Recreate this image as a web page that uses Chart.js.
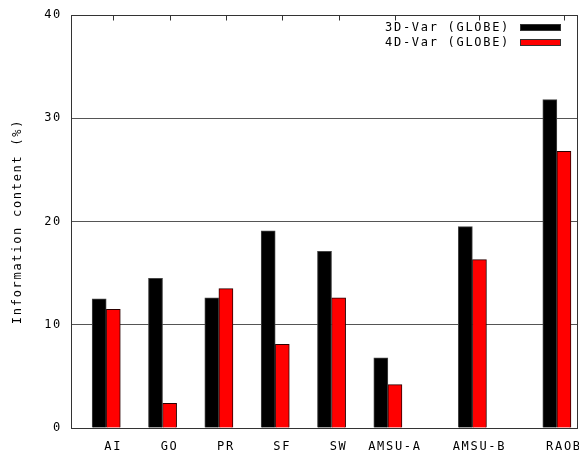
<!DOCTYPE html>
<html>
<head>
<meta charset="utf-8">
<script src="https://cdn.jsdelivr.net/npm/chart.js@4/dist/chart.umd.min.js"></script>
<style>
  html, body { margin: 0; padding: 0; background: #fff; overflow: hidden; }
  #wrap { width: 579px; height: 454px; }
</style>
</head>
<body>
<div id="wrap"><canvas id="c" width="579" height="454"></canvas></div>
<script>
// Observation types and where they sit along the x axis
const categories = ['AI', 'GO', 'PR', 'SF', 'SW', 'AMSU-A', 'AMSU-B', 'RAOB'];
const slots = [1, 2, 3, 4, 5, 6, 7.5, 9];

// Information content (%) per observation type
const var3d = [12.5, 14.5, 12.6, 19.1, 17.1, 6.8, 19.5, 31.8];
const var4d = [11.5, 2.4, 13.5, 8.1, 12.6, 4.2, 16.3, 26.8];

const seriesNames = ['3D-Var (GLOBE)', '4D-Var (GLOBE)'];
const yTicks = [0, 10, 20, 30, 40];

const MONO = { family: '"DejaVu Sans Mono", monospace', size: 12 };
const SPACING = '1.7px';
const FRAME = '#333';

// 3D-Var bars sit just left of each slot, 4D-Var bars on the slot itself
const shift3d = 0.25;
const pts3d = slots.map((s, i) => ({ x: s - shift3d, y: var3d[i] }));
const pts4d = slots.map((s, i) => ({ x: s, y: var4d[i] }));

// Wide, gnuplot-like lettering for every label on the canvas
const spacingPlugin = {
  id: 'spacing',
  beforeDraw(chart) { chart.ctx.letterSpacing = SPACING; }
};

// Closed frame with mirrored x tick marks along the top edge
const framePlugin = {
  id: 'frame',
  afterDatasetsDraw(chart) {
    const { ctx, chartArea: a, scales } = chart;
    ctx.save();
    ctx.strokeStyle = FRAME;
    ctx.lineWidth = 1;
    const L = Math.round(a.left) + 0.5, R = Math.round(a.right) - 0.5;
    const T = Math.round(a.top) + 0.5, B = Math.round(a.bottom) + 0.5;
    ctx.beginPath();
    ctx.moveTo(L, T); ctx.lineTo(R, T); ctx.lineTo(R, B); ctx.lineTo(L, B); ctx.closePath();
    scales.x.ticks.forEach(t => {
      const px = Math.round(scales.x.getPixelForValue(t.value)) + 0.5;
      ctx.moveTo(px, T); ctx.lineTo(px, T + 5);
    });
    ctx.stroke();
    ctx.restore();
  }
};

// Key in the upper right: label text first, colour sample after it
const keyPlugin = {
  id: 'key',
  afterDraw(chart) {
    const { ctx, chartArea: a } = chart;
    ctx.save();
    ctx.letterSpacing = SPACING;
    ctx.font = `${MONO.size}px ${MONO.family}`;
    ctx.textAlign = 'right';
    ctx.textBaseline = 'middle';
    chart.data.datasets.forEach((ds, i) => {
      const cy = a.top + 12 + i * 15;
      const boxR = a.right - 17, boxW = 41, boxH = 7;
      ctx.fillStyle = '#000';
      ctx.fillText(ds.label, boxR - boxW - 10, cy + 1);
      ctx.fillStyle = ds.backgroundColor;
      ctx.fillRect(boxR - boxW, Math.round(cy - boxH / 2), boxW, boxH);
      ctx.strokeStyle = FRAME;
      ctx.lineWidth = 1;
      ctx.strokeRect(boxR - boxW + 0.5, Math.round(cy - boxH / 2) + 0.5, boxW - 1, boxH - 1);
    });
    ctx.restore();
  }
};

new Chart(document.getElementById('c'), {
  type: 'bar',
  data: {
    datasets: [
      { label: seriesNames[0], data: pts3d, backgroundColor: '#000000', borderColor: '#444', borderWidth: 1 },
      { label: seriesNames[1], data: pts4d, backgroundColor: '#ff0000', borderColor: '#2a0000', borderWidth: 1 }
    ]
  },
  options: {
    responsive: false,
    animation: false,
    devicePixelRatio: 1,
    grouped: false,
    categoryPercentage: 1,
    barPercentage: 1,
    layout: { padding: { top: 15, right: 1, left: 0, bottom: 0 } },
    plugins: { legend: { display: false }, tooltip: { enabled: false } },
    scales: {
      x: {
        type: 'linear',
        offset: false,
        min: 0.25,
        max: 9.25,
        grid: { display: false, drawTicks: false, offset: false },
        border: { display: false },
        afterBuildTicks: s => { s.ticks = slots.map(v => ({ value: v })); },
        ticks: {
          autoSkip: false,
          maxRotation: 0,
          padding: 12,
          color: '#000',
          font: MONO,
          callback: v => categories[slots.indexOf(v)]
        },
        afterFit: s => { s.height = 26; s.paddingLeft = 0; s.paddingRight = 0; }
      },
      y: {
        min: 0,
        max: 40,
        afterBuildTicks: s => { s.ticks = yTicks.map(v => ({ value: v })); },
        grid: { color: '#555', lineWidth: 1, drawTicks: false },
        border: { display: false },
        ticks: { padding: 9, color: '#000', font: MONO },
        title: {
          display: true,
          text: 'Information content (%)',
          color: '#000',
          font: MONO,
          padding: { top: 11, bottom: 0 }
        },
        afterFit: s => { s.width = 71; s.paddingTop = 0; s.paddingBottom = 0; }
      }
    }
  },
  plugins: [spacingPlugin, framePlugin, keyPlugin]
});
</script>
</body>
</html>
